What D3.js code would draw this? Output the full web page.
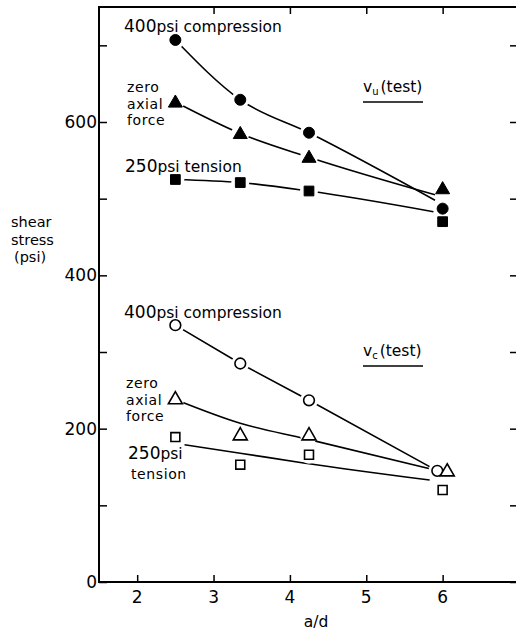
<!DOCTYPE html>
<html>
<head>
<meta charset="utf-8">
<script src="https://cdn.jsdelivr.net/npm/d3@7"></script>
<style>
  html, body { margin: 0; padding: 0; background: #fff; }
  svg { display: block; font-family: "DejaVu Sans", sans-serif; }
</style>
</head>
<body>
<svg id="chart" width="516" height="634"></svg>
<script>
// a/d values of the four test groups
const adVals = [2.5, 3.35, 4.25, 6.0];

// v_u (test), filled markers
const vuCompression = [707, 629, 586, 487];
const vuZeroAxial = [626, 585, 554, 513];
const vuTension = [525, 521, 510, 470];

// v_c (test), open markers (last point of circles / triangles sits either side of 6)
const vcCompressionAd = [2.5, 3.35, 4.25, 5.93];
const vcCompression = [335, 285, 237, 145];
const vcZeroAxialAd = [2.5, 3.35, 4.25, 6.06];
const vcZeroAxial = [239, 192, 192, 145];
const vcTension = [189, 153, 166, 120];

// hand-drawn trend curves
const vuCompressionFit = [[2.5, 707], [3.35, 629], [4.25, 586], [5.9, 498]];
const vuZeroAxialFit = [[2.5, 626], [3.35, 585], [4.25, 554], [5.9, 505]];
const vuTensionFit = [[2.5, 525], [3.35, 521], [4.25, 510], [5.88, 483]];
const vcCompressionFit = [[2.5, 335], [3.35, 285], [4.25, 237], [5.93, 145]];
const vcZeroAxialFit = [[2.5, 238], [3.35, 207], [4.2, 187], [5.9, 146]];
const vcTensionFit = [[2.62, 179], [3.35, 168], [4.2, 155], [5.83, 133]];

const xTicks = [2, 3, 4, 5, 6];
const yTicks = [0, 100, 200, 300, 400, 500, 600, 700];
const yLabels = [0, 200, 400, 600];

const svg = d3.select('#chart');

const x = d3.scaleLinear().domain([1.5, 7]).range([99, 519]);
const y = d3.scaleLinear().domain([0, 750]).range([582, 7]);

// frame
svg.append('rect')
  .attr('x', x(1.5)).attr('y', y(750))
  .attr('width', x(7) - x(1.5)).attr('height', y(0) - y(750))
  .attr('fill', 'none').attr('stroke', '#000').attr('stroke-width', 2);

// left axis, ticks inward
const leftAxis = svg.append('g')
  .attr('transform', `translate(${x(1.5)},0)`)
  .call(d3.axisRight(y).tickValues(yTicks).tickSize(8).tickFormat(''));
leftAxis.select('.domain').remove();
leftAxis.selectAll('line').attr('stroke-width', 1.5);

// right axis, ticks inward
const rightAxis = svg.append('g')
  .attr('transform', `translate(${x(7)},0)`)
  .call(d3.axisLeft(y).tickValues(yTicks).tickSize(9).tickFormat(''));
rightAxis.select('.domain').remove();
rightAxis.selectAll('line').attr('stroke-width', 1.5);

// bottom axis, ticks inward
const bottomAxis = svg.append('g')
  .attr('transform', `translate(0,${y(0)})`)
  .call(d3.axisTop(x).tickValues(xTicks).tickSize(7).tickFormat(''));
bottomAxis.select('.domain').remove();
bottomAxis.selectAll('line').attr('stroke-width', 1.5);

// top axis, ticks inward
const topAxis = svg.append('g')
  .attr('transform', `translate(0,${y(750)})`)
  .call(d3.axisBottom(x).tickValues([3, 4, 5, 6]).tickSize(7).tickFormat(''));
topAxis.select('.domain').remove();
topAxis.selectAll('line').attr('stroke-width', 1.5);

// tick labels
svg.append('g').selectAll('text')
  .data(yLabels)
  .join('text')
  .attr('x', x(1.5) - 2)
  .attr('y', (d) => y(d) + 6)
  .attr('text-anchor', 'end')
  .attr('font-size', 17)
  .text((d) => d);

svg.append('g').selectAll('text')
  .data(xTicks)
  .join('text')
  .attr('x', (d) => x(d))
  .attr('y', 603)
  .attr('text-anchor', 'middle')
  .attr('font-size', 17)
  .text((d) => d);

svg.append('text')
  .attr('x', 316).attr('y', 627)
  .attr('text-anchor', 'middle')
  .attr('font-size', 15.5)
  .text('a/d');

const yTitle = svg.append('text').attr('font-size', 14.5);
['shear', 'stress', '(psi)'].forEach((s, i) => {
  yTitle.append('tspan').attr('x', i === 2 ? 14 : 11).attr('y', 227 + i * 17.5).text(s);
});

// curves
const line = d3.line().x((d) => x(d[0])).y((d) => y(d[1]));
const curvy = d3.line().x((d) => x(d[0])).y((d) => y(d[1])).curve(d3.curveMonotoneX);

[vuCompressionFit, vuZeroAxialFit, vuTensionFit, vcZeroAxialFit, vcTensionFit].forEach((fit) => {
  svg.append('path').attr('d', curvy(fit))
    .attr('fill', 'none').attr('stroke', '#000').attr('stroke-width', 1.6);
});
svg.append('path').attr('d', line(vcCompressionFit))
  .attr('fill', 'none').attr('stroke', '#000').attr('stroke-width', 1.6);

// markers
const pts = (ads, vals) => ads.map((a, i) => [a, vals[i]]);
const sets = [
  { data: pts(adVals, vuCompression), shape: d3.symbolCircle, size: 95, filled: true },
  { data: pts(adVals, vuZeroAxial), shape: d3.symbolTriangle, size: 85, filled: true },
  { data: pts(adVals, vuTension), shape: d3.symbolSquare, size: 95, filled: true },
  { data: pts(vcCompressionAd, vcCompression), shape: d3.symbolCircle, size: 90, filled: false },
  { data: pts(vcZeroAxialAd, vcZeroAxial), shape: d3.symbolTriangle, size: 85, filled: false },
  { data: pts(adVals, vcTension), shape: d3.symbolSquare, size: 80, filled: false }
];

// white gaps where lines meet markers
sets.forEach((s) => {
  svg.append('g').selectAll('circle')
    .data(s.data)
    .join('circle')
    .attr('cx', (d) => x(d[0]))
    .attr('cy', (d) => y(d[1]))
    .attr('r', 9)
    .attr('fill', '#fff');
});

sets.forEach((s) => {
  svg.append('g').selectAll('path')
    .data(s.data)
    .join('path')
    .attr('transform', (d) => `translate(${x(d[0])},${y(d[1]) + (s.shape === d3.symbolTriangle ? 1 : 0)})`)
    .attr('d', d3.symbol().type(s.shape).size(s.size))
    .attr('fill', s.filled ? '#000' : '#fff')
    .attr('stroke', '#000')
    .attr('stroke-width', s.filled ? 1 : 1.6);
});

// annotations
const noteSize = 15.5;
function label(xp, yp, big, rest) {
  const t = svg.append('text').attr('x', xp).attr('y', yp).attr('font-size', noteSize);
  t.append('tspan').attr('font-size', 17).text(big);
  t.append('tspan').text(rest);
  return t;
}
function stack(xp, yp, lines) {
  const t = svg.append('text').attr('font-size', 14).attr('letter-spacing', 0.6);
  lines.forEach((s, i) => t.append('tspan').attr('x', xp).attr('y', yp + i * 16.5).text(s));
}

label(124, 32, '400', 'psi  compression');
stack(127, 92, ['zero', 'axial', 'force']);
label(125, 172, '250', 'psi  tension');

label(124, 318, '400', 'psi  compression');
stack(126, 388, ['zero', 'axial', 'force']);
label(128, 459, '250', 'psi');
svg.append('text').attr('x', 131).attr('y', 479)
  .attr('font-size', 14).attr('letter-spacing', 0.6).text('tension');

function testLabel(yp, sub) {
  const t = svg.append('text').attr('x', 363).attr('y', yp).attr('font-size', 15.5);
  t.append('tspan').text('v');
  t.append('tspan').attr('font-size', 10).attr('dy', 3).text(sub);
  t.append('tspan').attr('dy', -3).attr('dx', 2).text('(test)');
  svg.append('line')
    .attr('x1', 363).attr('x2', 423)
    .attr('y1', yp + 10).attr('y2', yp + 10)
    .attr('stroke', '#000').attr('stroke-width', 1.5);
}
testLabel(92, 'u');
testLabel(356, 'c');
</script>
</body>
</html>
